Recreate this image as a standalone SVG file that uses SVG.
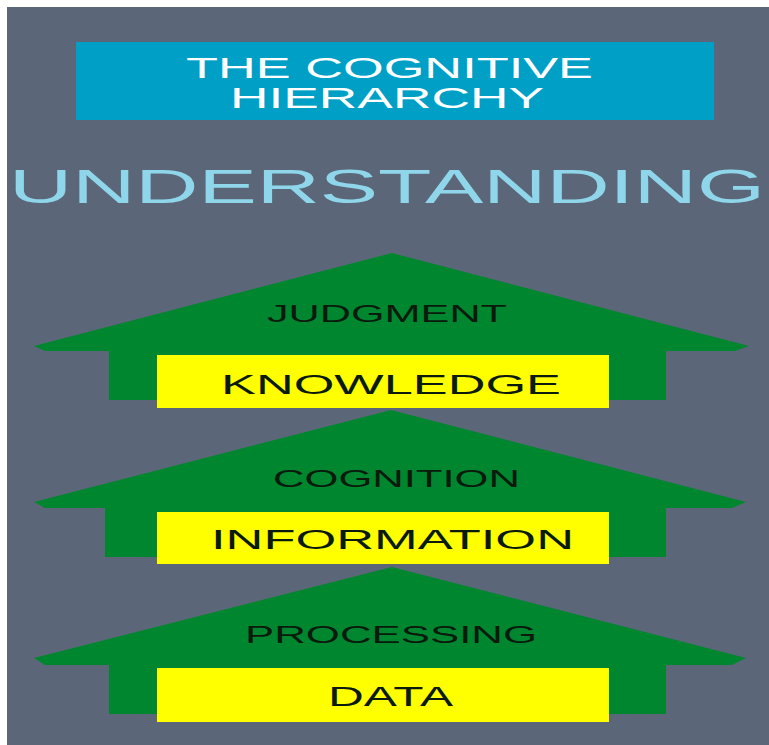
<svg xmlns="http://www.w3.org/2000/svg" width="769" height="745" viewBox="0 0 769 745">
<style>
.arrow{fill:#00862F}
.box{fill:#FFFF00}
.lbl{font-family:"Liberation Sans",Arial,sans-serif;fill:#0A1A0C}
.proc{font-size:24px}
.lvl{font-size:27px}
.title{font-family:"Liberation Sans",Arial,sans-serif;font-size:29px;fill:#FFFFFF}
.under{font-family:"Liberation Sans",Arial,sans-serif;font-size:49px;fill:#8FD6EA}
</style>
<rect x="0" y="0" width="769" height="745" fill="#FFFFFF"/>
<rect x="7" y="7" width="762" height="738" fill="#5B6779"/>
<g id="title">
<rect x="76" y="42" width="638" height="78" fill="#009FC6"/>
<text class="title" x="186" y="78" textLength="407" lengthAdjust="spacingAndGlyphs">THE COGNITIVE</text>
<text class="title" x="230" y="108" textLength="314" lengthAdjust="spacingAndGlyphs">HIERARCHY</text>
</g>
<g id="understanding">
<text class="under" x="9" y="203" textLength="756" lengthAdjust="spacingAndGlyphs">UNDERSTANDING</text>
</g>
<g id="level-knowledge">
<polygon class="arrow" points="392,253 749,346 735,351 666,351 666,400 109,400 109,351 45,351 34,346"/>
<text class="lbl proc" x="267" y="322" textLength="240" lengthAdjust="spacingAndGlyphs">JUDGMENT</text>
<rect class="box" x="157" y="355" width="452" height="53"/>
<text class="lbl lvl" x="221" y="394" textLength="340" lengthAdjust="spacingAndGlyphs">KNOWLEDGE</text>
</g>
<g id="level-information">
<polygon class="arrow" points="391,410 746,502 732,508 666,508 666,557 105,557 105,508 45,508 34,502"/>
<text class="lbl proc" x="273" y="487" textLength="247" lengthAdjust="spacingAndGlyphs">COGNITION</text>
<rect class="box" x="157" y="512" width="452" height="52"/>
<text class="lbl lvl" x="211" y="549" textLength="363" lengthAdjust="spacingAndGlyphs">INFORMATION</text>
</g>
<g id="level-data">
<polygon class="arrow" points="392,567 746,658 732,665 666,665 666,714 109,714 109,665 45,665 34,658"/>
<text class="lbl proc" x="245" y="643" textLength="292" lengthAdjust="spacingAndGlyphs">PROCESSING</text>
<rect class="box" x="157" y="668" width="452" height="54"/>
<text class="lbl lvl" x="328" y="706" textLength="125" lengthAdjust="spacingAndGlyphs">DATA</text>
</g>
</svg>
